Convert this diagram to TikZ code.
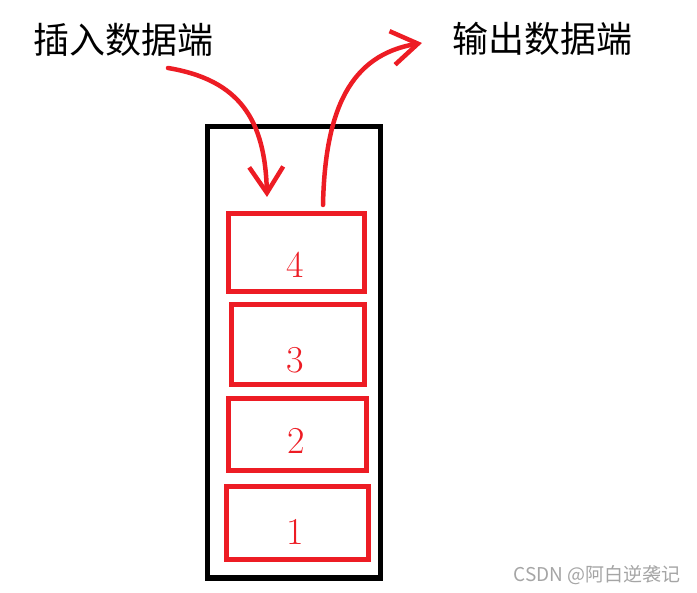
\documentclass[tikz,border=0pt]{standalone}
\usepackage{fontspec}
\newfontfamily\cjk{Noto Sans CJK SC}
\usetikzlibrary{arrows.meta}
\definecolor{penred}{RGB}{237,28,36}
\definecolor{markgray}{RGB}{165,165,165}

\begin{document}
\begin{tikzpicture}[x=1pt, y=-1pt,
      stack/.style={draw, line width=5.5pt, minimum width=173pt, minimum height=451.5pt},
      cell/.style ={draw=penred, line width=5pt},
      num/.style  ={text=penred, font=\fontsize{38}{40}\selectfont},
      title/.style={font=\cjk\fontsize{36}{40}\selectfont},
      pen/.style  ={draw=penred, line width=4.5pt, line cap=round, line join=round},
      >={Straight Barb[length=26pt, width=34pt]}
    ]
    \useasboundingbox (0,0) rectangle (697,593);

    % Stapel (aussen)
    \node[stack] (stack) at (294,352.25) {};

    % Elemente 4..1, von oben nach unten
    \node[cell, minimum width=136pt, minimum height=78pt] (c4) at (296.5,252.5) {};
    \node[cell, minimum width=133pt, minimum height=80pt] (c3) at (298,344.5) {};
    \node[cell, minimum width=138pt, minimum height=72pt] (c2) at (297.5,434.5) {};
    \node[cell, minimum width=142pt, minimum height=73pt] (c1) at (297.5,523) {};

    \node[num] (n4) at (295,265) {4};
    \node[num] (n3) at (295,360) {3};
    \node[num] (n2) at (296,441) {2};
    \node[num] (n1) at (295,532) {1};

    % Beschriftungen oben
    \node[title] (tin)  at (124,40) {插入数据端};
    \node[title] (tout) at (542,39) {输出数据端};

    % Pfeile: hinein und heraus
    \coordinate (inTail)  at (168,68);
    \coordinate (inHead)  at (267,197);
    \draw[pen, ->] (inTail) .. controls (240,80) and (265,120) .. (inHead);

    \coordinate (outTail) at (323,205);
    \coordinate (outHead) at (422,43);
    \draw[pen, ->] (outTail) .. controls (325,110) and (350,55) .. (outHead);

    % Wasserzeichen
    \node[text=markgray, font=\cjk\fontsize{19}{21}\selectfont] (wm) at (597,575) {CSDN @阿白逆袭记};
  \end{tikzpicture}
\end{document}
